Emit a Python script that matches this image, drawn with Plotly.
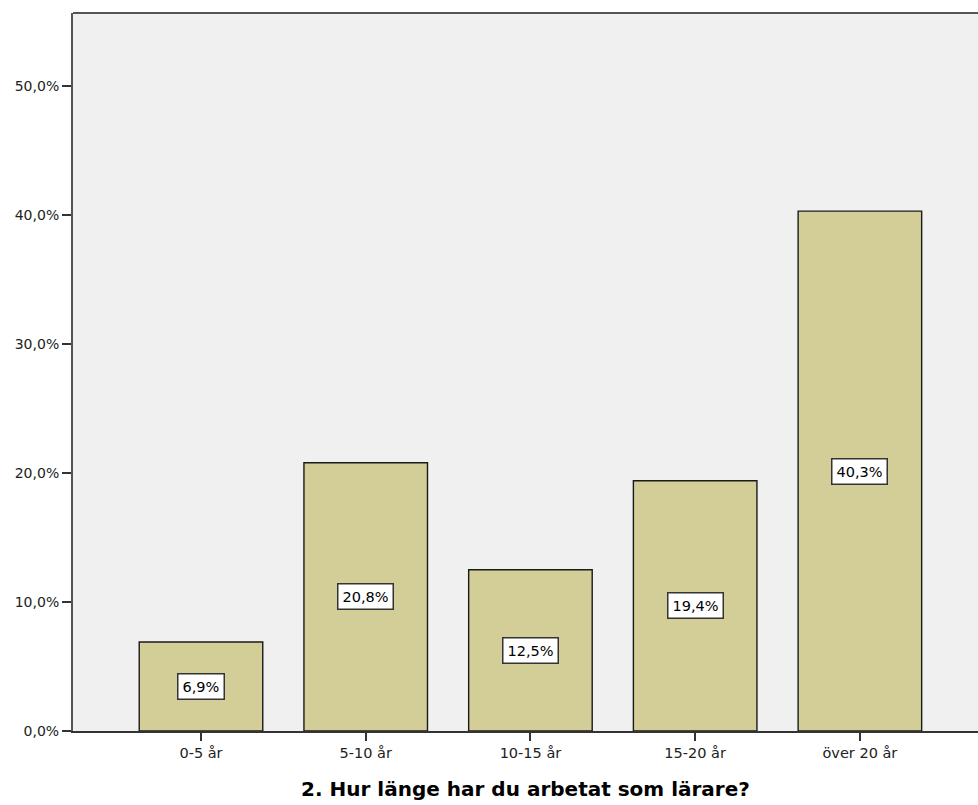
import plotly.graph_objects as go

categories = ["0-5 år", "5-10 år", "10-15 år", "15-20 år", "över 20 år"]
values = [6.9, 20.8, 12.5, 19.4, 40.3]
y_ticks = [0, 10, 20, 30, 40, 50]
y_tick_labels = ["0,0%", "10,0%", "20,0%", "30,0%", "40,0%", "50,0%"]
x_title = "2. Hur länge har du arbetat som lärare?"

def fmt(v):
    return f"{v:.1f}%".replace(".", ",")

fig = go.Figure()
fig.add_trace(go.Bar(
    x=list(range(len(categories))), y=values, width=0.75,
    marker=dict(color="#d3ce97", line=dict(color="#1a1a1a", width=1.4)),
    hoverinfo="skip",
))

for i, v in enumerate(values):
    fig.add_annotation(
        x=i, y=v / 2, text=fmt(v), showarrow=False,
        font=dict(family="DejaVu Sans", size=14.5, color="#000000"),
        bgcolor="#ffffff", bordercolor="#333333", borderwidth=1.5, borderpad=4,
    )

fig.update_layout(
    width=978, height=805,
    margin=dict(l=73, r=0, t=13, b=74),
    paper_bgcolor="#ffffff", plot_bgcolor="#f0f0f0",
    showlegend=False, bargap=0.25,
    font=dict(family="DejaVu Sans", size=14, color="#222222"),
)
fig.update_xaxes(
    range=[-0.777, 4.717], tickmode="array",
    tickvals=list(range(len(categories))), ticktext=categories,
    ticks="outside", ticklen=8, tickwidth=1.5, tickcolor="#333333",
    showline=True, linecolor="#333333", linewidth=1.5,
    showgrid=False, zeroline=False,
    tickfont=dict(family="DejaVu Sans", size=14.5, color="#222222"),
    title=dict(text=x_title, font=dict(family="DejaVu Sans", size=20, color="#000000", weight="bold"), standoff=22),
)
fig.update_yaxes(
    range=[0, 55.66], tickmode="array", tickvals=y_ticks, ticktext=y_tick_labels,
    ticks="outside", ticklen=9, tickwidth=1.5, tickcolor="#333333",
    showline=True, linecolor="#555555", linewidth=2, mirror=False,
    showgrid=False, zeroline=False,
    tickfont=dict(family="DejaVu Sans", size=14, color="#222222"),
)
fig.add_shape(type="line", xref="paper", yref="paper", x0=0, x1=1, y0=1, y1=1,
              line=dict(color="#555555", width=2))

fig.write_html("out.html")
